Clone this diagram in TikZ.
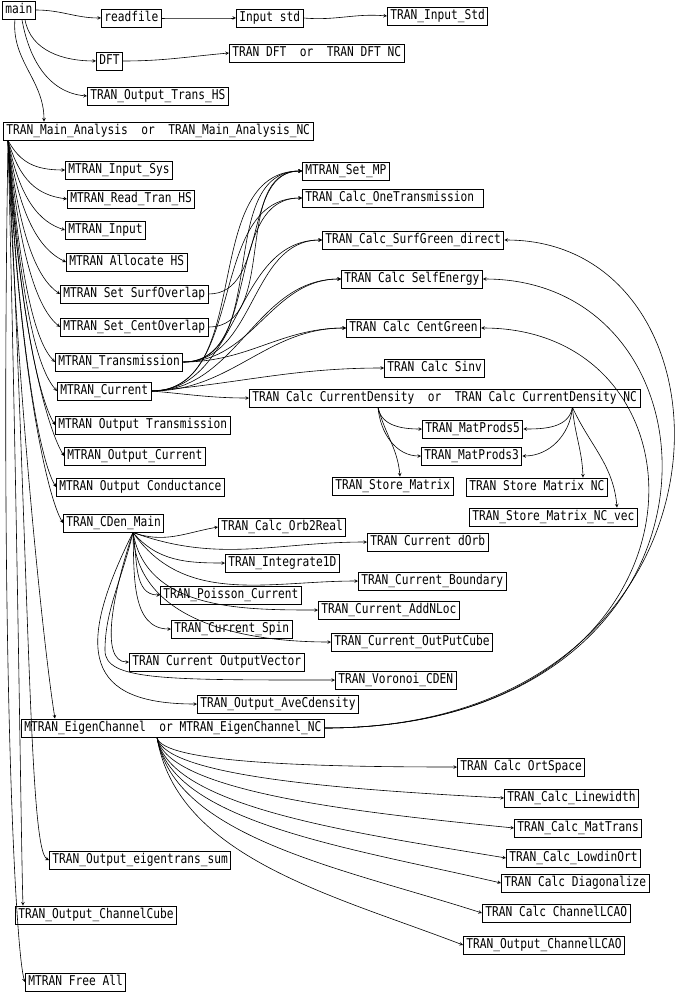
\documentclass[tikz,border=0pt]{standalone}
\usepackage{fontspec}
\newfontfamily\cgmono{DejaVu Sans Mono}[FakeStretch=0.83]
\newcommand{\cgfont}{\cgmono\fontsize{13.5}{15}\selectfont}

\begin{document}
\begin{tikzpicture}[x=1pt,y=1pt,>=stealth,
   fn/.style={draw,line width=0.9pt,anchor=west,inner xsep=3pt,inner ysep=1pt,
              text height=10pt,text depth=3pt,minimum height=18pt,font=\cgfont},
   call/.style={->,line width=0.6pt}]
   \useasboundingbox (0,0) rectangle (679,-995);
   % top part
   \node[fn] (main)     at (2,-10)   {main};
   \node[fn] (readfile) at (101,-18) {readfile};
   \node[fn] (instd)    at (236,-18) {Input std};
   \node[fn] (inputstd) at (387,-16) {TRAN\_Input\_Std};
   \node[fn] (dft)      at (96,-61)  {DFT};
   \node[fn] (trandft)  at (229,-53) {TRAN DFT~~or~~TRAN DFT NC};
   \node[fn] (ouths)    at (87,-96)  {TRAN\_Output\_Trans\_HS};
   \node[fn] (mainan)   at (3,-131)  {TRAN\_Main\_Analysis~~or~~TRAN\_Main\_Analysis\_NC};
   % called from the main analysis
   \node[fn] (inputsys) at (65,-170) {MTRAN\_Input\_Sys};
   \node[fn] (readhs)   at (67,-199) {MTRAN\_Read\_Tran\_HS};
   \node[fn] (minput)   at (65,-230) {MTRAN\_Input};
   \node[fn] (alloc)    at (66,-262) {MTRAN Allocate HS};
   \node[fn] (surfov)   at (60,-294) {MTRAN Set SurfOverlap};
   \node[fn] (centov)   at (60,-327) {MTRAN\_Set\_CentOverlap};
   \node[fn] (trans)    at (55,-362) {MTRAN\_Transmission};
   \node[fn] (curr)     at (57,-391) {MTRAN\_Current};
   \node[fn] (outtrans) at (55,-425) {MTRAN Output Transmission};
   \node[fn] (outcurr)  at (64,-456) {MTRAN\_Output\_Current};
   \node[fn] (outcond)  at (56,-487) {MTRAN Output Conductance};
   \node[fn] (cden)     at (63,-523) {TRAN\_CDen\_Main};
   \node[fn] (eigen)    at (21,-728) {MTRAN\_EigenChannel~~or MTRAN\_EigenChannel\_NC};
   \node[fn] (eigsum)   at (49,-860) {TRAN\_Output\_eigentrans\_sum};
   \node[fn] (chcube)   at (15,-915) {TRAN\_Output\_ChannelCube};
   \node[fn] (free)     at (25,-982) {MTRAN Free All};
   % transmission and current
   \node[fn] (setmp)    at (302,-171) {MTRAN\_Set\_MP};
   \node[fn] (onetr)    at (302,-198) {TRAN\_Calc\_OneTransmission~\null};
   \node[fn] (surfgr)   at (322,-240) {TRAN\_Calc\_SurfGreen\_direct};
   \node[fn] (selfen)   at (341,-279) {TRAN Calc SelfEnergy};
   \node[fn] (centgr)   at (346,-328) {TRAN Calc CentGreen};
   \node[fn] (sinv)     at (384,-368) {TRAN Calc Sinv};
   \node[fn] (cdens)    at (249,-398) {TRAN Calc CurrentDensity~~or~~TRAN Calc CurrentDensity NC};
   \node[fn] (mp5)      at (422,-429) {TRAN\_MatProds5};
   \node[fn] (mp3)      at (421,-456) {TRAN\_MatProds3};
   \node[fn] (store)    at (332,-486) {TRAN\_Store\_Matrix};
   \node[fn] (storenc)  at (466,-487) {TRAN Store Matrix NC};
   \node[fn] (storevec) at (469,-517) {TRAN\_Store\_Matrix\_NC\_vec};
   % current density
   \node[fn] (orb)      at (218,-527) {TRAN\_Calc\_Orb2Real};
   \node[fn] (dorb)     at (367,-542) {TRAN Current dOrb};
   \node[fn] (integ)    at (225,-563) {TRAN\_Integrate1D};
   \node[fn] (bound)    at (358,-581) {TRAN\_Current\_Boundary};
   \node[fn] (poisson)  at (160,-595) {TRAN\_Poisson\_Current};
   \node[fn] (addn)     at (318,-610) {TRAN\_Current\_AddNLoc};
   \node[fn] (spin)     at (171,-629) {TRAN\_Current\_Spin};
   \node[fn] (cube)     at (331,-642) {TRAN\_Current\_OutPutCube};
   \node[fn] (outvec)   at (129,-662) {TRAN Current OutputVector};
   \node[fn] (voron)    at (335,-680) {TRAN\_Voronoi\_CDEN};
   \node[fn] (ave)      at (197,-704) {TRAN\_Output\_AveCdensity};
   % eigenchannels
   \node[fn] (ort)      at (457,-767) {TRAN Calc OrtSpace};
   \node[fn] (linew)    at (504,-798) {TRAN\_Calc\_Linewidth};
   \node[fn] (mattr)    at (514,-828) {TRAN\_Calc\_MatTrans};
   \node[fn] (lowdin)   at (506,-858) {TRAN\_Calc\_LowdinOrt};
   \node[fn] (diag)     at (501,-883) {TRAN Calc Diagonalize};
   \node[fn] (lcao)     at (482,-913) {TRAN Calc ChannelLCAO};
   \node[fn] (outlcao)  at (463,-945) {TRAN\_Output\_ChannelLCAO};
   % fan points
   \coordinate (mafan) at ([xshift=5pt]mainan.south west);
   \coordinate (cdfan) at ([xshift=70pt]cden.south west);
   \coordinate (egfan) at ([xshift=136pt]eigen.south west);
   \coordinate (cdl)   at ([xshift=129pt]cdens.south west);
   \coordinate (cdr)   at ([xshift=-68pt]cdens.south east);
   % main
   \draw[call] (main.east) to[out=0,in=180] (readfile.west);
   \draw[call] (readfile.east) to[out=0,in=180] (instd.west);
   \draw[call] (instd.east) to[out=-5,in=175] (inputstd.west);
   \draw[call] ([xshift=6pt]main.south) to[out=-80,in=180] (dft.west);
   \draw[call] (dft.east) to[out=0,in=185] (trandft.west);
   \draw[call] ([xshift=3pt]main.south) to[out=-80,in=175] (ouths.west);
   \draw[call] ([xshift=-4pt]main.south) to[out=-95,in=90] ([xshift=41pt]mainan.north west);
   % main analysis
   \draw[call] (mafan) .. controls +(12,-22) and +(-30,0) .. (inputsys.west);
   \draw[call] (mafan) .. controls +(12,-40) and +(-30,4) .. (readhs.west);
   \draw[call] (mafan) .. controls +(12,-60) and +(-25,8) .. (minput.west);
   \draw[call] (mafan) .. controls +(12,-80) and +(-25,12) .. (alloc.west);
   \draw[call] (mafan) .. controls +(12,-100) and +(-22,15) .. (surfov.west);
   \draw[call] (mafan) .. controls +(12,-120) and +(-22,18) .. (centov.west);
   \draw[call] (mafan) .. controls +(12,-140) and +(-20,20) .. (trans.west);
   \draw[call] (mafan) .. controls +(12,-160) and +(-20,22) .. (curr.west);
   \draw[call] (mafan) .. controls +(12,-180) and +(-15,25) .. (outtrans.west);
   \draw[call] (mafan) .. controls +(12,-200) and +(-15,25) .. (outcurr.west);
   \draw[call] (mafan) .. controls +(12,-220) and +(-15,25) .. (outcond.west);
   \draw[call] (mafan) .. controls +(12,-240) and +(-15,25) .. (cden.west);
   \draw[call] (mafan) .. controls +(8,-250) and +(-10,60) .. ([xshift=34pt]eigen.north west);
   \draw[call] (mafan) .. controls +(22,-450) and +(-20,10) .. (eigsum.west);
   \draw[call] (mafan) .. controls +(10,-400) and +(-2,60) .. ([xshift=8pt]chcube.north west);
   \draw[call] (mafan) .. controls +(-8,-500) and +(-10,30) .. (free.west);
   % transmission, current
   \draw[call] (surfov.east) to[out=0,in=180] (setmp.west);
   \draw[call] (centov.east) to[out=0,in=180] (setmp.west);
   \draw[call] (trans.east) to[out=0,in=180] (setmp.west);
   \draw[call] (trans.east) to[out=0,in=180] (onetr.west);
   \draw[call] (trans.east) to[out=0,in=180] (surfgr.west);
   \draw[call] (trans.east) to[out=0,in=180] (selfen.west);
   \draw[call] (trans.east) to[out=0,in=180] (centgr.west);
   \draw[call] (curr.east) to[out=0,in=180] (setmp.west);
   \draw[call] (curr.east) to[out=0,in=180] (onetr.west);
   \draw[call] (curr.east) to[out=0,in=180] (surfgr.west);
   \draw[call] (curr.east) to[out=0,in=180] (selfen.west);
   \draw[call] (curr.east) to[out=0,in=180] (centgr.west);
   \draw[call] (curr.east) to[out=5,in=180] (sinv.west);
   \draw[call] (curr.east) to[out=-5,in=180] (cdens.west);
   % current density
   \draw[call] (cdl) to[out=-80,in=180] (mp5.west);
   \draw[call] (cdl) to[out=-85,in=180] (mp3.west);
   \draw[call] (cdl) to[out=-75,in=95] ([xshift=68pt]store.north west);
   \draw[call] (cdr) to[out=-100,in=0] (mp5.east);
   \draw[call] (cdr) to[out=-95,in=0] (mp3.east);
   \draw[call] (cdr) to[out=-85,in=92] ([xshift=117pt]storenc.north west);
   \draw[call] (cdr) to[out=-65,in=95] ([xshift=148pt]storevec.north west);
   % cden main
   \draw[call] (cdfan) to[out=-20,in=190] (orb.west);
   \draw[call] (cdfan) to[out=-20,in=180] (dorb.west);
   \draw[call] (cdfan) to[out=-50,in=180] (integ.west);
   \draw[call] (cdfan) to[out=-55,in=180] (bound.west);
   \draw[call] (cdfan) to[out=-80,in=180] (poisson.west);
   \draw[call] (cdfan) to[out=-80,in=180] (addn.west);
   \draw[call] (cdfan) to[out=-88,in=180] (spin.west);
   \draw[call] (cdfan) to[out=-88,in=180] (cube.west);
   \draw[call] (cdfan) .. controls +(-20,-60) and +(-30,0) .. (outvec.west);
   \draw[call] (cdfan) .. controls +(-12,-50) and +(0,40) .. ++(-28,-118)
                       .. controls +(0,-30) and +(-170,0) .. (voron.west);
   \draw[call] (cdfan) .. controls +(-60,-120) and +(-110,0) .. (ave.west);
   % eigenchannel
   \draw[call] (eigen.east) .. controls +(430,0) and +(250,0) .. (surfgr.east);
   \draw[call] (eigen.east) .. controls +(425,0) and +(255,0) .. (selfen.east);
   \draw[call] (eigen.east) .. controls +(400,0) and +(245,0) .. (centgr.east);
   \draw[call] (egfan) .. controls +(5,-25) and +(-150,0) .. (ort.west);
   \draw[call] (egfan) .. controls +(8,-40) and +(-150,8) .. (linew.west);
   \draw[call] (egfan) .. controls +(10,-55) and +(-150,15) .. (mattr.west);
   \draw[call] (egfan) .. controls +(12,-70) and +(-150,25) .. (lowdin.west);
   \draw[call] (egfan) .. controls +(15,-85) and +(-150,35) .. (diag.west);
   \draw[call] (egfan) .. controls +(18,-100) and +(-140,45) .. (lcao.west);
   \draw[call] (egfan) .. controls +(20,-120) and +(-130,50) .. (outlcao.west);
\end{tikzpicture}
\end{document}
